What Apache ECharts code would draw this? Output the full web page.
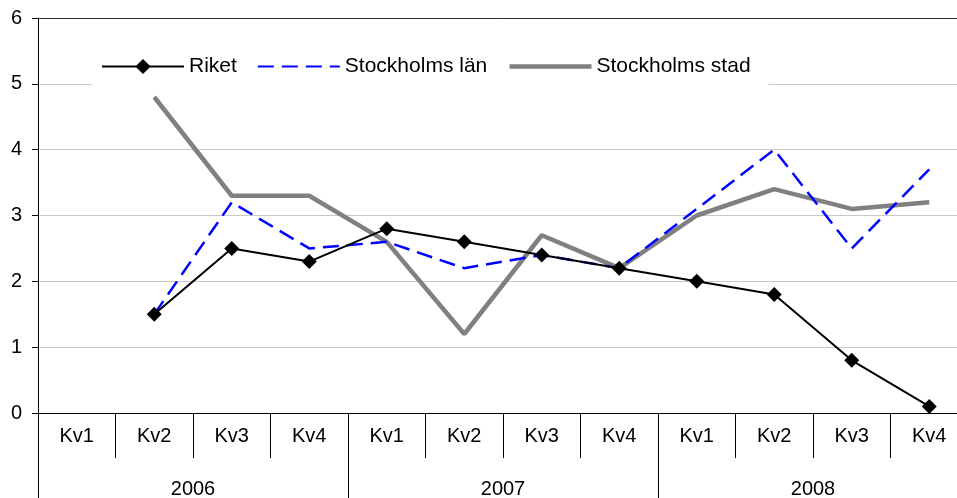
<!DOCTYPE html>
<html>
<head>
<meta charset="utf-8">
<script src="https://cdn.jsdelivr.net/npm/echarts@6/dist/echarts.min.js"></script>
<style>
html,body{margin:0;padding:0;background:#fff;overflow:hidden;}
#chart{width:957px;height:498px;}
</style>
</head>
<body>
<div id="chart"></div>
<script>
var quarters = ['Kv1','Kv2','Kv3','Kv4','Kv1','Kv2','Kv3','Kv4','Kv1','Kv2','Kv3','Kv4'];
var years = ['2006','2007','2008'];
var yTicks = [0,1,2,3,4,5,6];
var riket = [null, 1.5, 2.5, 2.3, 2.8, 2.6, 2.4, 2.2, 2.0, 1.8, 0.8, 0.1];
var stockholmsLan = [null, 1.5, 3.2, 2.5, 2.6, 2.2, 2.4, 2.2, 3.1, 4.0, 2.5, 3.7];
var stockholmsStad = [null, 4.8, 3.3, 3.3, 2.6, 1.2, 2.7, 2.2, 3.0, 3.4, 3.1, 3.2];

var FONT = 'Liberation Sans, Arial, sans-serif';
var chart = echarts.init(document.getElementById('chart'));
chart.setOption({
  animation: false,
  backgroundColor: '#fff',
  textStyle: {fontFamily: FONT, color: '#000'},
  grid: {left: 38, width: 930, top: 18, bottom: 85, containLabel: false, outerBoundsMode: 'none'},
  legend: {
    left: 92, top: 46,
    padding: [10, 18, 10, 9],
    backgroundColor: '#fff',
    itemWidth: 82, itemHeight: 19, itemGap: 20,
    textStyle: {fontSize: 21, color: '#000', fontFamily: FONT},
    data: [
      {name: 'Riket'},
      {name: 'Stockholms län', itemStyle: {opacity: 0}},
      {name: 'Stockholms stad', itemStyle: {opacity: 0}, lineStyle: {width: 4.5}}
    ]
  },
  xAxis: [
    {
      type: 'category', data: quarters, position: 'bottom', boundaryGap: true,
      axisLine: {onZero: false, lineStyle: {color: '#000', width: 1}},
      axisTick: {show: true, length: 45, lineStyle: {color: '#000'}},
      axisLabel: {fontSize: 20, color: '#000', margin: 13, fontFamily: FONT, interval: 0},
      splitLine: {show: false}
    },
    {
      type: 'category', data: years, position: 'bottom', boundaryGap: true,
      axisLine: {show: false, onZero: false},
      axisTick: {show: true, length: 85, lineStyle: {color: '#000'}},
      axisLabel: {fontSize: 20, color: '#000', margin: 66, fontFamily: FONT, interval: 0},
      splitLine: {show: false}
    },
    {
      type: 'category', data: quarters, position: 'top',
      axisLine: {show: true, onZero: false, lineStyle: {color: '#333', width: 1}},
      axisTick: {show: false}, axisLabel: {show: false}, splitLine: {show: false}
    }
  ],
  yAxis: {
    type: 'value', min: 0, max: 6, interval: 1,
    axisLine: {show: true, lineStyle: {color: '#000'}},
    axisTick: {show: true, length: 6, lineStyle: {color: '#000'}},
    axisLabel: {fontSize: 20, color: '#000', margin: 16, fontFamily: FONT,
      formatter: function (v) { return yTicks.indexOf(v) >= 0 ? String(v) : ''; }},
    splitLine: {show: true, lineStyle: {color: '#c8c8c8', width: 1}}
  },
  series: [
    {
      name: 'Riket', type: 'line', data: riket, xAxisIndex: 0,
      symbol: 'diamond', symbolSize: 15, showSymbol: true,
      itemStyle: {color: '#000'},
      lineStyle: {color: '#000', width: 2},
      z: 4
    },
    {
      name: 'Stockholms län', type: 'line', data: stockholmsLan, xAxisIndex: 0,
      symbol: 'none', showSymbol: false,
      itemStyle: {color: '#0000ff'},
      lineStyle: {color: '#0000ff', width: 2.5, type: [16, 8]},
      z: 3
    },
    {
      name: 'Stockholms stad', type: 'line', data: stockholmsStad, xAxisIndex: 0,
      symbol: 'none', showSymbol: false,
      itemStyle: {color: '#808080'},
      lineStyle: {color: '#808080', width: 4.5},
      z: 2
    }
  ]
});
</script>
</body>
</html>
